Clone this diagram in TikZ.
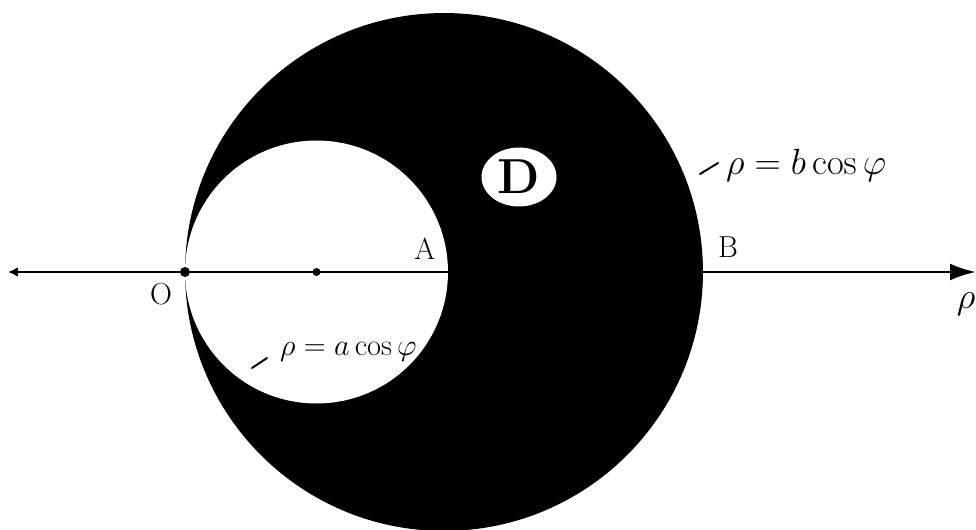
\documentclass[tikz,border=0pt]{standalone}
\usepackage{amsmath}
\usetikzlibrary{arrows.meta,shapes.geometric}
\begin{document}
\begin{tikzpicture}[
    x=0.02cm, y=-0.02cm,
    ptlbl/.style={font=\LARGE},
    curvelbl/.style={font=\LARGE, inner sep=1pt},
    leader/.style={line width=1.1pt, line cap=round},
    axis/.style={line width=1.6pt, {Latex[length=0.2cm,width=0.2cm]}-{Latex[length=0.52cm,width=0.34cm]}},
]
\useasboundingbox (0,0) rectangle (976,530);

% Region D between the two circles
\coordinate (Cb) at (444,272);
\coordinate (Ca) at (316.5,272);
\fill (Cb) circle[radius=5.18cm];
\fill[white] (Ca) circle[radius=2.63cm];

% Points on the polar axis
\coordinate (O) at (185,272);
\coordinate (A) at (448,272);
\coordinate (B) at (703,272);
\coordinate (west) at (8,272);
\coordinate (east) at (976,272);

% Polar axis
\draw[axis] (west) -- (east);
\fill (O) circle[radius=0.1cm];
\fill (Ca) circle[radius=0.08cm];

% Labels
\node[ptlbl] (lblO) at (161,294) {O};
\node[ptlbl] (lblA) at (425,249) {A};
\node[ptlbl] (lblB) at (728,247) {B};
\node[font=\huge, inner sep=0pt] (lblrho) at (966,304) {$\rho$};
\node[ellipse, fill=white, minimum width=1.5cm, minimum height=1.18cm, inner sep=0pt,
      font=\fontsize{28}{30}\selectfont\bfseries] (lblD) at (519,177) {D};

% Curve labels
\node[curvelbl, font=\huge, anchor=west] (lblb) at (724,165) {$\rho=b\cos\varphi$};
\node[curvelbl, anchor=west] (lbla) at (278,352) {$\rho=a\cos\varphi$};
\coordinate (tb) at (700,174);
\coordinate (ta) at (252,368);
\draw[leader] (tb) -- ++(18,-11);
\draw[leader] (ta) -- ++(15,-10);
\end{tikzpicture}
\end{document}
